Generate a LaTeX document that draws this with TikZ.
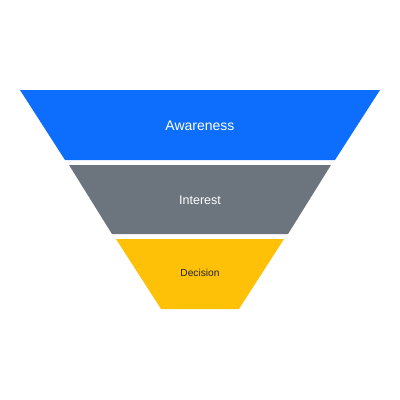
\documentclass[tikz,border=0pt]{standalone}
\usepackage{fontspec}
\setmainfont{Liberation Sans}
\usepackage{tikz}
\definecolor{awareblue}{HTML}{0D6EFD}
\definecolor{interestgray}{HTML}{6C757D}
\definecolor{decisionyellow}{HTML}{FFC107}
\definecolor{darktext}{HTML}{212529}

\begin{document}
\begin{tikzpicture}[x=1pt,y=-1pt]
        \useasboundingbox (0,0) rectangle (400,400);

        \fill[awareblue] (20,90) -- (380,90) -- (335,160) -- (65,160) -- cycle;
        \fill[interestgray] (69,165) -- (331,165) -- (288,234) -- (112,234) -- cycle;
        \fill[decisionyellow] (116,239) -- (284,239) -- (239,309) -- (161,309) -- cycle;

        \node[text=white, font=\fontsize{14}{16}\selectfont] (aware) at (200,126) {Awareness};
        \node[text=white, font=\fontsize{12.5}{14}\selectfont] (interest) at (200,200) {Interest};
        \node[text=darktext, font=\fontsize{10.2}{12}\selectfont] (decision) at (200,273) {Decision};
    \end{tikzpicture}
\end{document}
